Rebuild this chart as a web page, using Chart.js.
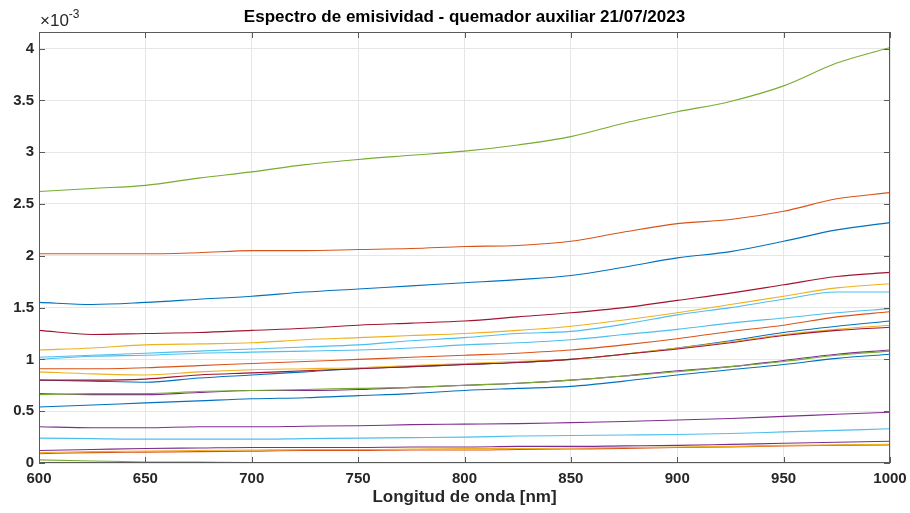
<!DOCTYPE html>
<html>
<head>
<meta charset="utf-8">
<script src="https://cdn.jsdelivr.net/npm/chart.js@4.4.1/dist/chart.umd.min.js"></script>
<style>
  html, body { margin: 0; padding: 0; background: #ffffff; }
  #wrap { width: 910px; height: 513px; }
</style>
</head>
<body>
<div id="wrap"><canvas id="c" width="910" height="513"></canvas></div>
<script>
// Wavelength samples [nm]
const wavelengths = [600, 625, 650, 675, 700, 725, 750, 775, 800, 825, 850, 875, 900, 925, 950, 975, 1000];
// Emissivity series, in units of 1e-3
const serie01 = [1.55, 1.53, 1.55, 1.58, 1.61, 1.65, 1.68, 1.71, 1.74, 1.77, 1.81, 1.89, 1.98, 2.04, 2.14, 2.25, 2.32];
const serie02 = [2.02, 2.02, 2.02, 2.03, 2.05, 2.05, 2.06, 2.07, 2.09, 2.10, 2.14, 2.23, 2.31, 2.35, 2.43, 2.55, 2.61];
const serie03 = [1.09, 1.11, 1.14, 1.15, 1.16, 1.19, 1.21, 1.23, 1.25, 1.28, 1.32, 1.38, 1.45, 1.53, 1.61, 1.69, 1.73];
const serie04 = [0.67, 0.66, 0.66, 0.68, 0.70, 0.70, 0.71, 0.73, 0.75, 0.77, 0.80, 0.84, 0.89, 0.93, 0.99, 1.05, 1.09];
const serie05 = [2.62, 2.65, 2.68, 2.75, 2.81, 2.88, 2.93, 2.97, 3.01, 3.07, 3.15, 3.28, 3.39, 3.49, 3.64, 3.86, 4.01];
const serie06 = [1.02, 1.04, 1.06, 1.08, 1.10, 1.12, 1.14, 1.18, 1.21, 1.25, 1.27, 1.34, 1.43, 1.50, 1.58, 1.65, 1.65];
const serie07 = [1.28, 1.24, 1.25, 1.26, 1.28, 1.30, 1.33, 1.35, 1.37, 1.41, 1.45, 1.50, 1.57, 1.64, 1.72, 1.80, 1.84];
const serie08 = [0.80, 0.79, 0.78, 0.82, 0.85, 0.88, 0.91, 0.93, 0.95, 0.97, 1.00, 1.05, 1.11, 1.18, 1.26, 1.32, 1.37];
const serie09 = [0.91, 0.91, 0.92, 0.94, 0.96, 0.98, 1.00, 1.02, 1.04, 1.06, 1.09, 1.14, 1.20, 1.27, 1.33, 1.41, 1.46];
const serie10 = [0.88, 0.86, 0.85, 0.88, 0.90, 0.91, 0.92, 0.94, 0.96, 0.98, 1.00, 1.05, 1.11, 1.17, 1.24, 1.29, 1.33];
const serie11 = [0.35, 0.34, 0.34, 0.35, 0.35, 0.355, 0.36, 0.37, 0.375, 0.38, 0.39, 0.40, 0.415, 0.43, 0.45, 0.47, 0.49];
const serie12 = [0.66, 0.67, 0.67, 0.69, 0.70, 0.71, 0.72, 0.73, 0.75, 0.77, 0.80, 0.84, 0.88, 0.93, 0.98, 1.04, 1.08];
const serie13 = [1.00, 1.03, 1.04, 1.06, 1.07, 1.08, 1.09, 1.11, 1.14, 1.16, 1.19, 1.24, 1.29, 1.35, 1.40, 1.45, 1.49];
const serie14 = [0.80, 0.80, 0.81, 0.85, 0.87, 0.89, 0.91, 0.93, 0.95, 0.97, 1.00, 1.05, 1.10, 1.16, 1.23, 1.28, 1.31];
const serie15 = [0.54, 0.56, 0.58, 0.60, 0.62, 0.63, 0.65, 0.67, 0.70, 0.72, 0.74, 0.79, 0.85, 0.90, 0.95, 1.01, 1.05];
const serie16 = [0.09, 0.10, 0.105, 0.11, 0.115, 0.12, 0.12, 0.125, 0.125, 0.13, 0.135, 0.14, 0.15, 0.155, 0.165, 0.17, 0.175];
const serie17 = [0.10, 0.11, 0.115, 0.12, 0.125, 0.13, 0.13, 0.135, 0.14, 0.14, 0.145, 0.15, 0.155, 0.16, 0.17, 0.175, 0.18];
const serie18 = [0.12, 0.13, 0.14, 0.145, 0.15, 0.15, 0.15, 0.155, 0.155, 0.16, 0.16, 0.165, 0.17, 0.18, 0.19, 0.20, 0.21];
const serie19 = [0.03, 0.02, 0.01, 0.008, 0.005, 0.005, 0.005, 0.005, 0.005, 0.005, 0.005, 0.005, 0.005, 0.005, 0.005, 0.005, 0.005];
const serie20 = [0.24, 0.235, 0.23, 0.23, 0.23, 0.235, 0.24, 0.245, 0.25, 0.26, 0.265, 0.27, 0.275, 0.285, 0.30, 0.315, 0.33];

const xTickValues = [600, 650, 700, 750, 800, 850, 900, 950, 1000];
const yTickValues = [0, 0.5, 1, 1.5, 2, 2.5, 3, 3.5, 4];

const titleText = 'Espectro de emisividad - quemador auxiliar 21/07/2023';
const xLabelText = 'Longitud de onda [nm]';

const palette = ['#0072BD', '#D95319', '#EDB120', '#7E2F8E', '#77AC30', '#4DBEEE', '#A2142F'];
const allSeries = [serie01, serie02, serie03, serie04, serie05, serie06, serie07, serie08, serie09, serie10,
                   serie11, serie12, serie13, serie14, serie15, serie16, serie17, serie18, serie19, serie20];

const datasets = allSeries.map((s, i) => ({
  label: 'Serie ' + (i + 1),
  data: s.map((v, k) => ({ x: wavelengths[k], y: v })),
  borderColor: palette[i % palette.length],
  backgroundColor: palette[i % palette.length],
  borderWidth: 1.1,
  pointRadius: 0,
  fill: false,
  cubicInterpolationMode: 'monotone',
  order: allSeries.length - i
}));

const AXIS_COLOR = '#5a5a5a';
const TEXT_COLOR = '#262626';
const FONT = '"Liberation Sans", Arial, sans-serif';

const frame = {
  id: 'frame',
  afterDraw(chart) {
    const ctx = chart.ctx;
    const a = chart.chartArea;
    const xs = chart.scales.x, ys = chart.scales.y;
    ctx.save();
    ctx.strokeStyle = AXIS_COLOR;
    ctx.lineWidth = 1;
    ctx.strokeRect(Math.round(a.left) + 0.5, Math.round(a.top) + 0.5,
                   Math.round(a.right - a.left) - 1, Math.round(a.bottom - a.top) - 1);
    const tl = 6;
    ctx.beginPath();
    xTickValues.forEach(v => {
      const px = Math.round(xs.getPixelForValue(v)) + 0.5;
      ctx.moveTo(px, a.bottom); ctx.lineTo(px, a.bottom - tl);
      ctx.moveTo(px, a.top); ctx.lineTo(px, a.top + tl);
    });
    yTickValues.forEach(v => {
      const py = Math.round(ys.getPixelForValue(v)) + 0.5;
      ctx.moveTo(a.left, py); ctx.lineTo(a.left + tl, py);
      ctx.moveTo(a.right, py); ctx.lineTo(a.right - tl, py);
    });
    ctx.stroke();
    // title
    ctx.fillStyle = '#000000';
    ctx.textAlign = 'center';
    ctx.textBaseline = 'middle';
    ctx.font = 'bold 17px ' + FONT;
    ctx.fillText(titleText, (a.left + a.right) / 2, 17);
    // exponent
    ctx.textAlign = 'left';
    ctx.textBaseline = 'alphabetic';
    ctx.fillStyle = TEXT_COLOR;
    ctx.font = '17px ' + FONT;
    ctx.fillText('\u00d710', a.left + 1, 26);
    const w = ctx.measureText('\u00d710').width;
    ctx.font = '12px ' + FONT;
    ctx.fillText('-3', a.left + 1 + w, 18);
    ctx.restore();
  }
};

new Chart(document.getElementById('c'), {
  type: 'line',
  data: { datasets },
  options: {
    responsive: false,
    animation: false,
    events: [],
    layout: { padding: { top: 32, right: 20, left: 0, bottom: 0 } },
    plugins: { legend: { display: false }, title: { display: false }, tooltip: { enabled: false } },
    scales: {
      x: {
        type: 'linear',
        min: 600, max: 1000,
        afterBuildTicks: s => { s.ticks = xTickValues.map(v => ({ value: v })); },
        afterFit: s => { s.height = 50; s.paddingRight = 0; s.paddingLeft = 0; },
        grid: { color: '#e6e6e6', drawTicks: false, lineWidth: 1 },
        border: { display: false },
        ticks: { color: TEXT_COLOR, padding: 7, maxRotation: 0,
                 callback: v => String(v),
                 font: { family: FONT, size: 15, weight: 'bold' } },
        title: { display: true, text: xLabelText, color: TEXT_COLOR, padding: { top: 2, bottom: 5 },
                 font: { family: FONT, size: 17, weight: 'bold' } }
      },
      y: {
        type: 'linear',
        min: 0, max: 4.16,
        afterBuildTicks: s => { s.ticks = yTickValues.map(v => ({ value: v })); },
        afterFit: s => { s.width = 39; },
        grid: { color: '#e6e6e6', drawTicks: false, lineWidth: 1 },
        border: { display: false },
        ticks: { color: TEXT_COLOR, padding: 5,
                 callback: v => String(v),
                 font: { family: FONT, size: 15, weight: 'bold' } }
      }
    }
  },
  plugins: [frame]
});
</script>
</body>
</html>
